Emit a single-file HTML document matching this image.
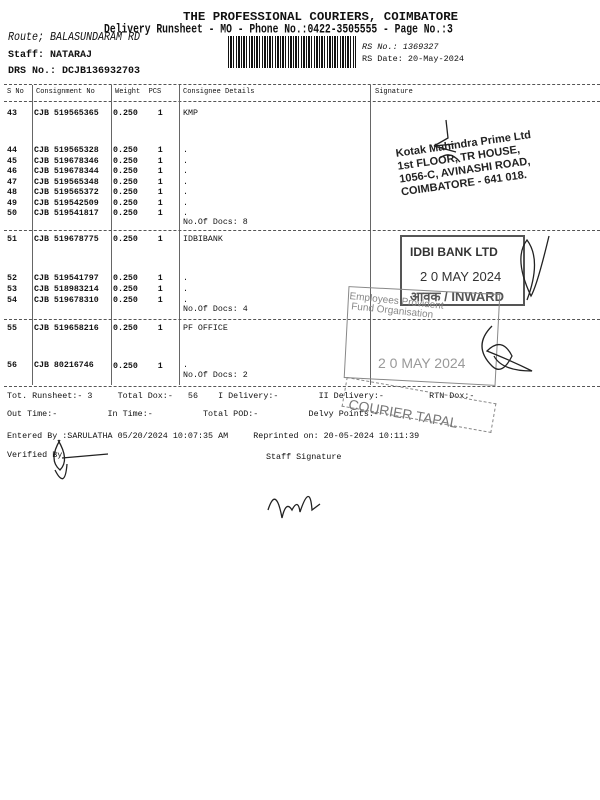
<!DOCTYPE html>
<html><head><meta charset="utf-8"><style>
body{margin:0;background:#fff;}
#p{position:relative;width:600px;height:800px;overflow:hidden;background:#fff;font-family:"Liberation Mono",monospace;color:#111;}
.t{position:absolute;white-space:pre;line-height:1;}
.b{font-weight:bold;}
.s{font-size:8.3px;}
.r{font-size:8.3px;font-weight:bold;}
.h{position:absolute;left:4px;width:596px;border-top:1px dashed #555;height:0;}
.v{position:absolute;width:0;border-left:1px solid #666;}
.sans{font-family:"Liberation Sans",sans-serif;}
</style></head><body><div id="p">
<div class="t b" style="left:183px;top:11px;font-size:12.4px;">THE PROFESSIONAL COURIERS, COIMBATORE</div>
<div class="t b" style="left:104px;top:23px;font-size:9.7px;transform:scaleY(1.35);transform-origin:top left;">Delivery Runsheet - MO - Phone No.:0422-3505555 - Page No.:3</div>
<div class="t" style="left:8px;top:33px;font-size:10px;font-style:italic;transform:scaleY(1.2);transform-origin:top left;">Route; BALASUNDARAM RD</div>
<div class="t b" style="left:8px;top:51px;font-size:10px;">Staff: NATARAJ</div>
<div class="t b" style="left:8px;top:67px;font-size:10px;">DRS No.: DCJB136932703</div>
<div style="position:absolute;left:228px;top:36px;width:128px;height:32px;background:repeating-linear-gradient(90deg,#111 0 1px,#fff 1px 2px,#111 2px 4px,#fff 4px 5px,#111 5px 6px,#fff 6px 8px,#111 8px 9px,#fff 9px 10px,#111 10px 12px,#fff 12px 13px);"></div>
<div class="t" style="left:362px;top:43px;font-size:8.5px;font-style:italic;">RS No.: 1369327</div>
<div class="t" style="left:362px;top:55px;font-size:8.5px;">RS Date: 20-May-2024</div>

<div class="h" style="top:84px;"></div>
<div class="t" style="left:7px;top:89px;font-size:7px;">S No</div>
<div class="t" style="left:36px;top:89px;font-size:7px;">Consignment No</div>
<div class="t" style="left:115px;top:89px;font-size:7px;">Weight  PCS</div>
<div class="t" style="left:183px;top:89px;font-size:7px;">Consignee Details</div>
<div class="t" style="left:375px;top:89px;font-size:7px;">Signature</div>
<div class="h" style="top:101px;"></div>
<div class="v" style="left:32px;top:85px;height:300px;"></div>
<div class="v" style="left:111px;top:85px;height:300px;"></div>
<div class="v" style="left:179px;top:85px;height:300px;"></div>
<div class="v" style="left:370px;top:85px;height:300px;"></div>

<div class="t r" style="left:7px;top:110px;">43</div>
<div class="t r" style="left:34px;top:110px;">CJB 519565365</div>
<div class="t r" style="left:113px;top:110px;">0.250    1</div>
<div class="t s" style="left:183px;top:110px;">KMP</div>

<div class="t r" style="left:7px;top:146px;line-height:10.5px;">44
45
46
47
48
49
50</div>
<div class="t r" style="left:34px;top:146px;line-height:10.5px;">CJB 519565328
CJB 519678346
CJB 519678344
CJB 519565348
CJB 519565372
CJB 519542509
CJB 519541817</div>
<div class="t r" style="left:113px;top:146px;line-height:10.5px;">0.250    1
0.250    1
0.250    1
0.250    1
0.250    1
0.250    1
0.250    1</div>
<div class="t s" style="left:183px;top:146px;line-height:10.5px;">.
.
.
.
.
.
.</div>
<div class="t s" style="left:183px;top:219px;">No.Of Docs: 8</div>
<div class="h" style="top:230px;"></div>

<div class="t r" style="left:7px;top:236px;">51</div>
<div class="t r" style="left:34px;top:236px;">CJB 519678775</div>
<div class="t r" style="left:113px;top:236px;">0.250    1</div>
<div class="t s" style="left:183px;top:236px;">IDBIBANK</div>

<div class="t r" style="left:7px;top:273px;line-height:11px;">52
53
54</div>
<div class="t r" style="left:34px;top:273px;line-height:11px;">CJB 519541797
CJB 518983214
CJB 519678310</div>
<div class="t r" style="left:113px;top:273px;line-height:11px;">0.250    1
0.250    1
0.250    1</div>
<div class="t s" style="left:183px;top:273px;line-height:11px;">.
.
.</div>
<div class="t s" style="left:183px;top:306px;">No.Of Docs: 4</div>
<div class="h" style="top:319px;"></div>

<div class="t r" style="left:7px;top:325px;">55</div>
<div class="t r" style="left:34px;top:325px;">CJB 519658216</div>
<div class="t r" style="left:113px;top:325px;">0.250    1</div>
<div class="t s" style="left:183px;top:325px;">PF OFFICE</div>

<div class="t r" style="left:7px;top:362px;">56</div>
<div class="t r" style="left:34px;top:362px;">CJB 80216746</div>
<div class="t r" style="left:113px;top:363px;">0.250    1</div>
<div class="t s" style="left:183px;top:362px;">.</div>
<div class="t s" style="left:183px;top:372px;">No.Of Docs: 2</div>
<div class="h" style="top:386px;"></div>

<div class="t s" style="left:7px;top:392px;font-size:8.4px;">Tot. Runsheet:- 3     Total Dox:-   56    I Delivery:-        II Delivery:-         RTN Dox:-</div>
<div class="t s" style="left:7px;top:410px;font-size:8.4px;">Out Time:-          In Time:-          Total POD:-          Delvy Points:-</div>
<div class="t s" style="left:7px;top:432px;font-size:8.4px;">Entered By :SARULATHA 05/20/2024 10:07:35 AM     Reprinted on: 20-05-2024 10:11:39</div>
<div class="t s" style="left:7px;top:451px;font-size:8.4px;">Verified By</div>
<div class="t s" style="left:266px;top:453px;font-size:8.4px;">Staff Signature</div>

<div class="t sans b" style="left:395px;top:148px;font-size:11px;line-height:13px;transform:rotate(-8deg);transform-origin:left top;color:#222;">Kotak Mahindra Prime Ltd
1st FLOOR, TR HOUSE,
1056-C, AVINASHI ROAD,
COIMBATORE - 641 018.</div>
<div style="position:absolute;left:400px;top:235px;width:121px;height:67px;border:2px solid #555;"></div>
<div class="t sans b" style="left:410px;top:246px;font-size:12px;color:#333;">IDBI BANK LTD</div>
<div class="t sans" style="left:420px;top:270px;font-size:13px;color:#333;">2 0 MAY 2024</div>
<div class="t sans b" style="left:410px;top:290px;font-size:13px;color:#555;">आवक / INWARD</div>
<div style="position:absolute;left:346px;top:290px;width:150px;height:90px;border:1px solid #888;transform:rotate(3deg);"></div>
<div class="t sans" style="left:350px;top:292px;font-size:10px;color:#888;transform:rotate(6deg);transform-origin:left top;">Employees Provident
 Fund Organisation</div>
<div class="t sans" style="left:378px;top:356px;font-size:14px;color:#999;">2 0 MAY 2024</div>
<div style="position:absolute;left:343px;top:390px;width:150px;height:28px;border:1px dashed #888;transform:rotate(10deg);"></div>
<div class="t sans" style="left:350px;top:397px;font-size:14px;color:#777;transform:rotate(10deg);transform-origin:left top;">COURIER TAPAL</div>
<svg style="position:absolute;left:0;top:0" width="600" height="800">
<g fill="none" stroke="#222" stroke-width="1.3">
<path d="M446 120 l2 18 -14 8 20 -2 M434 146 l22 6 M440 158 q10 -8 20 4"/>
<path d="M527 300 q15 -40 0 -60 q-14 18 4 56 q6 -10 18 -60"/>
<path d="M492 326 q-20 20 0 40 q10 10 20 -10 q-10 -20 -25 -5 q25 10 45 20 q-30 0 -38 -15"/>
<path d="M60 440 q-12 20 0 30 q10 -10 -2 -30 M62 458 l46 -4 M55 470 q10 20 12 -6"/>
<path d="M268 510 q8 -25 14 8 q4 -18 10 -8 q6 -12 8 2 q10 -30 12 -2 l8 -6"/>
</g></svg>
</div></body></html>
